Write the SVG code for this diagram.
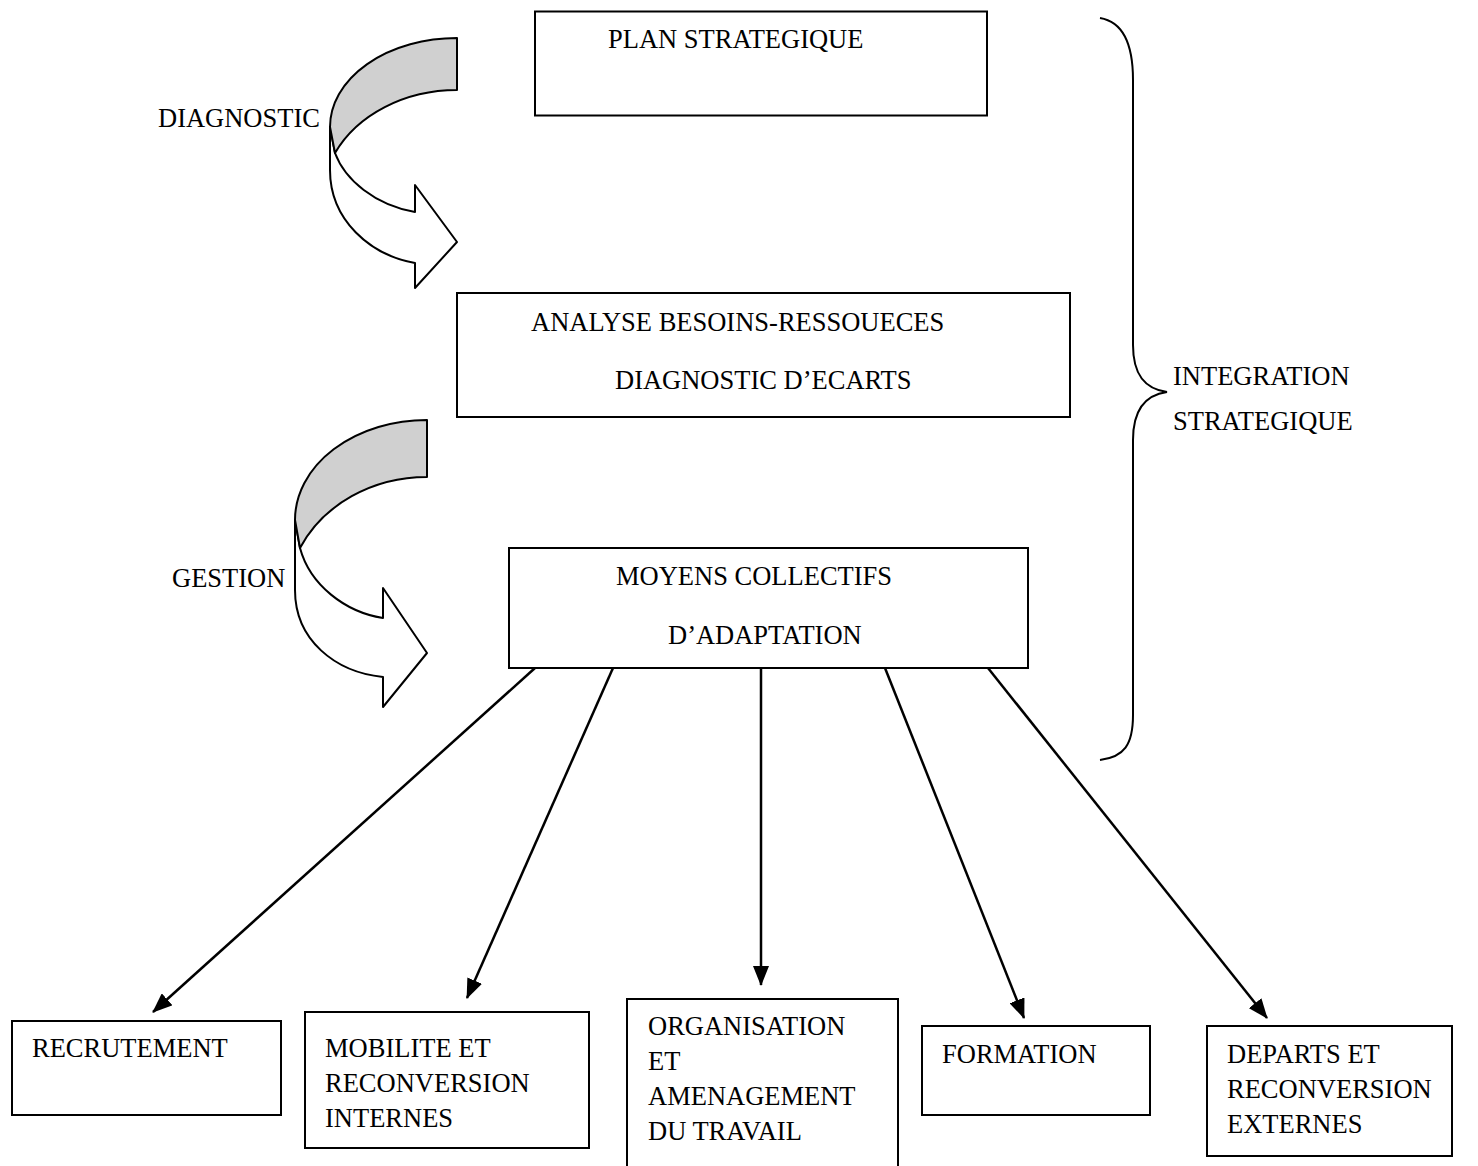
<svg xmlns="http://www.w3.org/2000/svg" width="1478" height="1166" viewBox="0 0 1478 1166">
  <style>
    .box { fill: #ffffff; stroke: #000000; stroke-width: 2; }
    .lbl { font-family: "Liberation Serif", "Times New Roman", serif; font-size: 26.5px; fill: #000000; }
    .band { stroke: #000000; stroke-width: 2; stroke-linejoin: round; }
    .link { stroke: #000000; stroke-width: 2.5; fill: none; marker-end: url(#head); }
    .brace { fill: none; stroke: #000000; stroke-width: 2; }
  </style>
  <defs>
    <marker id="head" viewBox="0 0 20 16" refX="19" refY="8" markerWidth="20" markerHeight="16" markerUnits="userSpaceOnUse" orient="auto">
      <path d="M0,0 L20,8 L0,16 Z" fill="#000000"/>
    </marker>
  </defs>
  <rect width="1478" height="1166" fill="#ffffff"/>

  <!-- top-level boxes -->
  <g id="plan">
    <rect class="box" x="535" y="11.5" width="452" height="104"/>
    <text class="lbl" x="608" y="48">PLAN STRATEGIQUE</text>
  </g>
  <g id="analyse">
    <rect class="box" x="457" y="293" width="613" height="124"/>
    <text class="lbl" x="531" y="331">ANALYSE BESOINS-RESSOUECES</text>
    <text class="lbl" x="615" y="389">DIAGNOSTIC D’ECARTS</text>
  </g>
  <g id="moyens">
    <rect class="box" x="509" y="548" width="519" height="120"/>
    <text class="lbl" x="616" y="585">MOYENS COLLECTIFS</text>
    <text class="lbl" x="668" y="644">D’ADAPTATION</text>
  </g>

  <!-- curved arrow: diagnostic -->
  <g id="diagnostic">
    <path class="band" fill="#ffffff" d="M330,127 L330,170 C330,220 370,255 415,263 L415,288 L457,242 L415,185 L415,212 C375,205 345,180 335,153 Z"/>
    <path class="band" fill="#d0d0d0" d="M457,38 A127,89 0 0 0 330,127 L335,153 A135,110 0 0 1 457,90 Z"/>
    <text class="lbl" x="158" y="127">DIAGNOSTIC</text>
  </g>

  <!-- curved arrow: gestion -->
  <g id="gestion">
    <path class="band" fill="#ffffff" d="M295,520 L295,590 C295,640 335,672 383,677 L383,707 L427,653 L383,588 L383,618 C345,612 310,585 300,548 Z"/>
    <path class="band" fill="#d0d0d0" d="M427,420 A132,100 0 0 0 295,520 L300,548 A140,123 0 0 1 427,477 Z"/>
    <text class="lbl" x="172" y="587">GESTION</text>
  </g>

  <!-- brace with its label -->
  <g id="integration">
    <path class="brace" d="M1100,18 C1124,22 1133,45 1133,80 L1133,345 C1133,375 1145,389 1167,392 C1145,395 1133,410 1133,440 L1133,715 C1133,745 1124,757 1100,760"/>
    <text class="lbl" x="1173" y="385">INTEGRATION</text>
    <text class="lbl" x="1173" y="430">STRATEGIQUE</text>
  </g>

  <!-- bottom boxes -->
  <g id="recrutement">
    <rect class="box" x="12" y="1021" width="269" height="94"/>
    <text class="lbl" x="32" y="1057">RECRUTEMENT</text>
  </g>
  <g id="mobilite">
    <rect class="box" x="305" y="1012" width="284" height="136"/>
    <text class="lbl" x="325" y="1057">MOBILITE ET</text>
    <text class="lbl" x="325" y="1092">RECONVERSION</text>
    <text class="lbl" x="325" y="1127">INTERNES</text>
  </g>
  <g id="organisation">
    <rect class="box" x="627" y="999" width="271" height="200"/>
    <text class="lbl" x="648" y="1035">ORGANISATION</text>
    <text class="lbl" x="648" y="1070">ET</text>
    <text class="lbl" x="648" y="1105">AMENAGEMENT</text>
    <text class="lbl" x="648" y="1140">DU TRAVAIL</text>
  </g>
  <g id="formation">
    <rect class="box" x="922" y="1026" width="228" height="89"/>
    <text class="lbl" x="942" y="1063">FORMATION</text>
  </g>
  <g id="departs">
    <rect class="box" x="1207" y="1026" width="245" height="130"/>
    <text class="lbl" x="1227" y="1063">DEPARTS ET</text>
    <text class="lbl" x="1227" y="1098">RECONVERSION</text>
    <text class="lbl" x="1227" y="1133">EXTERNES</text>
  </g>

  <!-- connectors from the adaptation box -->
  <g id="connectors">
    <line class="link" x1="535" y1="668" x2="153" y2="1012"/>
    <line class="link" x1="613" y1="668" x2="467" y2="998"/>
    <line class="link" x1="761" y1="668" x2="761" y2="985"/>
    <line class="link" x1="885" y1="668" x2="1024" y2="1018"/>
    <line class="link" x1="988" y1="668" x2="1267" y2="1018"/>
  </g>
</svg>
